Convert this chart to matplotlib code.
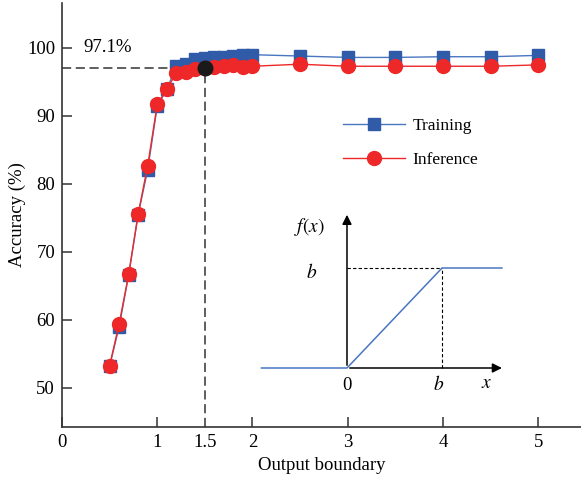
import numpy as np
import matplotlib.pyplot as plt

plt.rcParams['font.family'] = ['Liberation Serif', 'DejaVu Serif']
plt.rcParams['mathtext.fontset'] = 'stix'

# output boundary sweep
boundary = [0.5, 0.6, 0.7, 0.8, 0.9, 1.0, 1.1, 1.2, 1.3, 1.4, 1.5,
            1.6, 1.7, 1.8, 1.9, 2.0, 2.5, 3.0, 3.5, 4.0, 4.5, 5.0]
train_acc = [53.2, 59.0, 66.6, 75.5, 82.1, 91.4, 93.9, 97.3, 97.6, 98.3, 98.5,
             98.6, 98.7, 98.8, 98.9, 99.0, 98.8, 98.6, 98.6, 98.7, 98.7, 98.9]
infer_acc = [53.3, 59.4, 66.7, 75.6, 82.7, 91.7, 93.9, 96.3, 96.4, 96.9, 97.1,
             97.2, 97.4, 97.5, 97.2, 97.3, 97.6, 97.3, 97.3, 97.3, 97.3, 97.5]
best_b = 1.5
best_acc = 97.1

xticks = [0, 1, 2, 3, 4, 5]
yticks = [50, 60, 70, 80, 90, 100]

blue = '#2f5ba8'
blue_line = '#4a76c0'
red = '#ee2828'
axis_col = '#333333'
fs = 13.5

fig = plt.figure(figsize=(5.81, 4.82), dpi=100)
ax = fig.add_axes([62 / 581, 1 - 427 / 482, 1 - 62 / 581, 424 / 482])

ax.plot(boundary, train_acc, '-', color=blue_line, lw=1.0, marker='s', ms=8.5,
        mfc=blue, mec=blue, label='Training', zorder=3)
ax.plot(boundary, infer_acc, '-', color=red, lw=1.0, marker='o', ms=10,
        mfc=red, mec=red, label='Inference', zorder=4)

# highlighted operating point
ax.plot([0, best_b], [best_acc, best_acc], ls=(0, (6, 3)), color=axis_col, lw=1.1, zorder=2)
ax.plot([best_b, best_b], [44.26, best_acc], ls=(0, (6, 3)), color=axis_col, lw=1.1, zorder=2)
ax.plot([best_b], [best_acc], 'o', color='#1a1a1a', ms=10.5, zorder=5)
ax.text(0.22, 100, '%.1f%%' % best_acc, fontsize=fs, va='center', ha='left')

ax.set_xlim(0, 5.45)
ax.set_ylim(44.26, 106.6)
ax.set_xticks(xticks)
ax.set_xticklabels([str(t) for t in xticks])
ax.set_xticks([best_b], minor=True)
ax.set_xticklabels(['1.5'], minor=True)
ax.set_yticks(yticks)
ax.tick_params(axis='both', which='major', direction='in', length=7, width=1.1,
               color=axis_col, labelsize=fs, pad=5)
ax.tick_params(axis='x', which='minor', direction='in', length=0, labelsize=fs, pad=5)
for side in ['top', 'right']:
    ax.spines[side].set_visible(False)
for side in ['left', 'bottom']:
    ax.spines[side].set_color(axis_col)
    ax.spines[side].set_linewidth(1.2)

ax.set_xlabel('Output boundary', fontsize=fs, labelpad=4)
ax.set_ylabel('Accuracy (%)', fontsize=fs, labelpad=1)

ax.legend(loc='upper left', bbox_to_anchor=(0.528, 0.745), frameon=False, fontsize=12.5,
          handlelength=3.6, handletextpad=0.4, labelspacing=1.0, borderaxespad=0)

# inset: clipped linear activation
ins = fig.add_axes([255 / 581, 1 - 395 / 482, 260 / 581, 190 / 482])
ins.set_xlim(-0.968, 1.768)
ins.set_ylim(-0.27, 1.63)
ins.axis('off')
ins.annotate('', xy=(1.66, 0), xytext=(0, 0),
             arrowprops=dict(arrowstyle='-|>', color='black', lw=1.1, mutation_scale=14))
ins.annotate('', xy=(0, 1.56), xytext=(0, 0),
             arrowprops=dict(arrowstyle='-|>', color='black', lw=1.1, mutation_scale=14))
ins.plot([0, 1], [1, 1], ls=(0, (3, 2)), color='black', lw=0.8)
ins.plot([1, 1], [0, 1], ls=(0, (3, 2)), color='black', lw=0.8)
ins.plot([-0.9, 0, 1, 1.63], [0, 0, 1, 1], color=blue_line, lw=1.1)
ins.text(-0.39, 1.41, r'$f(x)$', fontsize=14, ha='center', va='center')
ins.text(-0.37, 0.96, r'$b$', fontsize=14, ha='center', va='center')
ins.text(0, -0.17, '0', fontsize=fs, ha='center', va='center')
ins.text(0.96, -0.17, r'$b$', fontsize=14, ha='center', va='center')
ins.text(1.47, -0.16, r'$x$', fontsize=14, ha='center', va='center')

fig.savefig('out.png', dpi=100)
